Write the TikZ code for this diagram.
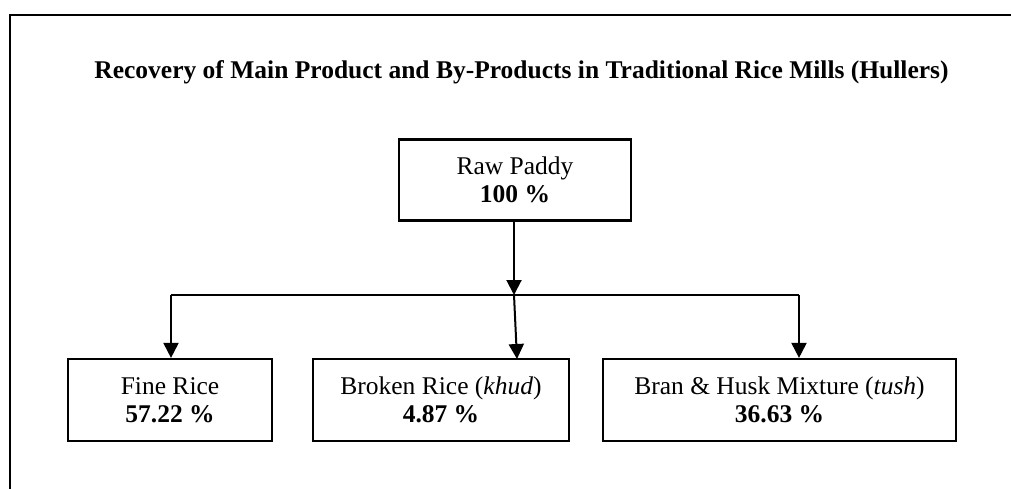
\documentclass[tikz,border=0pt]{standalone}
\usepackage{fontspec}
\setmainfont{Liberation Serif}
\usetikzlibrary{arrows.meta}
\begin{document}
\begin{tikzpicture}[x=1pt,y=-1pt,
  box/.style={draw,line width=2.2pt,align=center,inner sep=0pt,font=\fontsize{25.5}{28}\selectfont},
  arr/.style={line width=2pt,-{Triangle[length=15pt,width=15pt]}},
  lnk/.style={line width=1.6pt}]
\useasboundingbox (0,0) rectangle (1011,488);
\draw[line width=2.4pt] (10,489) -- (10,15) -- (1012,15);
\node[font=\fontsize{25.5}{28}\selectfont\bfseries] (title) at (521.5,72)
  {Recovery of Main Product and By-Products in Traditional Rice Mills (Hullers)};
\node[box,minimum width=232pt,minimum height=81pt] (raw) at (515,180) {Raw Paddy\\\textbf{100 \%}};
\node[box,minimum width=204pt,minimum height=82pt] (fine) at (170,400) {Fine Rice\\\textbf{57.22 \%}};
\node[box,minimum width=256pt,minimum height=82pt] (broken) at (441,400) {Broken Rice (\textit{khud})\\\textbf{4.87 \%}};
\node[box,minimum width=353pt,minimum height=82pt] (bran) at (779.5,400) {Bran \& Husk Mixture (\textit{tush})\\\textbf{36.63 \%}};
\coordinate (j) at (514,295);
\coordinate (jl) at (171,295);
\coordinate (jr) at (799,295);
\coordinate (bt) at (517,359);
\draw[arr] (raw.south -| j) -- (j);
\draw[lnk] (jl) -- (jr);
\draw[arr] (jl) -- (jl |- fine.north);
\draw[arr] (j) -- (bt);
\draw[arr] (jr) -- (jr |- bran.north);
\end{tikzpicture}
\end{document}
